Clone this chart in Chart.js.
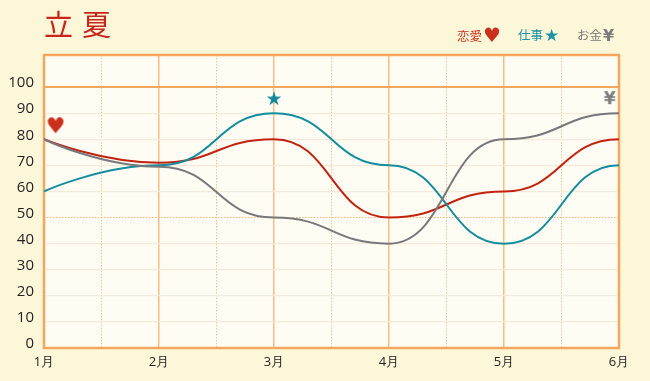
<!DOCTYPE html>
<html>
<head>
<meta charset="utf-8">
<script src="https://cdn.jsdelivr.net/npm/chart.js@4"></script>
<style>
  html, body { margin:0; padding:0; background:#fcf7d9; }
  #wrap { position:relative; width:650px; height:381px; }
  #titulo { position:absolute; left:44px; top:9px; font-family:"Noto Sans CJK JP"; font-size:29px; line-height:1; color:#c9261b; letter-spacing:9px; }
  .ley { position:absolute; top:26px; font-family:"Noto Sans CJK JP"; font-size:12.5px; line-height:18px; white-space:nowrap; }
  .ley b { font-family:"DejaVu Sans"; font-weight:normal; font-size:17px; vertical-align:-1px; margin-left:1px; }
</style>
</head>
<body>
<div id="wrap">
  <canvas id="grafico" width="650" height="381"></canvas>
  <div id="titulo">立夏</div>
  <div class="ley" style="left:457px;color:#c8311e">恋愛<b style="font-size:20px">♥</b></div>
  <div class="ley" style="left:518px;color:#1a93a4">仕事<b>★</b></div>
  <div class="ley" style="left:577px;color:#7a7a7a">お金<b style="font-weight:bold;font-size:16px">¥</b></div>
</div>
<script>
// datos
const meses = ['1月', '2月', '3月', '4月', '5月', '6月'];
const renai = [80, 71, 80, 50, 60, 80];      // 恋愛
const shigoto = [60, 70, 90, 70, 40, 70];    // 仕事
const okane = [80, 69.5, 50, 40, 80, 90];    // お金
const yTicks = [0, 10, 20, 30, 40, 50, 60, 70, 80, 90, 100];
const mitadX = [0.5, 1.5, 2.5, 3.5, 4.5];
// iconos sobre las curvas
const marcaX = [0.1, 2, 4.92];
const marcaY = [85, 95, 95];

const ROJO = '#c2220f', AZUL = '#128c9e', GRIS = '#76787b', NARANJA = '#f6a65c';

function glifo(ch, color, font, w, h, dy) {
    const c = document.createElement('canvas');
    c.width = w; c.height = h;
    const g = c.getContext('2d');
    g.fillStyle = color; g.font = font;
    g.textAlign = 'center'; g.textBaseline = 'middle';
    g.fillText(ch, w / 2, h / 2 + dy);
    return c;
}
const iconos = [
    glifo('♥', '#c8301c', '22px "DejaVu Sans"', 24, 24, 1),
    glifo('★', '#12899b', '19px "DejaVu Sans"', 20, 20, 0),
    glifo('¥', '#7b7b7b', 'bold 17px "DejaVu Sans"', 20, 20, 0)
];

const serie = arr => arr.map((v, i) => ({x: i, y: v}));

// tangentes horizontales en cada punto (salvo el primero)
const tangentesPlanas = {
    id: 'tangentesPlanas',
    beforeDatasetDraw(chart, args) {
        const meta = args.meta;
        if (!meta.dataset || meta.dataset.options.showLine === false) return;
        const linea = meta.dataset;
        linea.updateControlPoints(chart.chartArea, 'x');
        const pts = meta.data, K = 0.5;
        for (let i = 0; i < pts.length; i++) {
            const p = pts[i], prev = pts[i-1], next = pts[i+1];
            p.cp1x = prev ? p.x - (p.x - prev.x) * K : p.x;
            p.cp1y = p.y;
            p.cp2x = (next && prev) ? p.x + (next.x - p.x) * K : p.x;
            p.cp2y = p.y;
        }
        linea._path = undefined;
    }
};

const fondo = {
    id: 'fondo',
    beforeDraw(chart) {
        const a = chart.chartArea, ctx = chart.ctx;
        ctx.save(); ctx.fillStyle = '#fffdf3';
        ctx.fillRect(a.left, a.top, a.right - a.left, a.bottom - a.top);
        ctx.restore();
    },
    beforeDatasetsDraw(chart) {
        const a = chart.chartArea, ctx = chart.ctx;
        ctx.save(); ctx.strokeStyle = NARANJA; ctx.lineWidth = 2.5;
        ctx.strokeRect(a.left, a.top, a.right - a.left, a.bottom - a.top);
        ctx.restore();
    }
};

new Chart(document.getElementById('grafico'), {
    type: 'line',
    data: {
        datasets: [
            {label: 'お金', data: serie(okane), borderColor: GRIS},
            {label: '仕事', data: serie(shigoto), borderColor: AZUL},
            {label: '恋愛', data: serie(renai), borderColor: ROJO},
            {label: 'marcas', data: marcaX.map((x, i) => ({x: x, y: marcaY[i]})),
             showLine: false, pointStyle: iconos, pointRadius: 10, clip: false}
        ]
    },
    options: {
        responsive: false,
        animation: false,
        devicePixelRatio: 1,
        layout: {padding: {top: 55, right: 31, left: 0, bottom: 0}},
        elements: {
            line: {tension: 0.4, borderWidth: 2, fill: false},
            point: {radius: 0}
        },
        plugins: {legend: {display: false}, tooltip: {enabled: false}},
        scales: {
            x: {
                type: 'linear', min: 0, max: 5, position: 'bottom',
                afterBuildTicks: s => { s.ticks = meses.map((m, i) => ({value: i})); },
                afterFit: s => { s.height = 33; },
                border: {display: false},
                grid: {
                    drawTicks: false,
                    color: c => (c.tick && (c.tick.value === 0 || c.tick.value === 5)) ? 'rgba(0,0,0,0)' : '#f7bd86',
                    lineWidth: 1.5
                },
                ticks: {
                    padding: 6, color: '#231f20',
                    font: {family: 'Open Sans', size: 13},
                    callback: v => meses[v]
                }
            },
            x2: {
                type: 'linear', min: 0, max: 5, position: 'bottom',
                afterBuildTicks: s => { s.ticks = mitadX.map(v => ({value: v})); },
                afterFit: s => { s.height = 0; },
                border: {display: false, dash: [1.5, 1.5]},
                grid: {drawTicks: false, color: '#f3c39a', lineWidth: 1},
                ticks: {display: false}
            },
            y: {
                min: 0, max: 112.3, position: 'left',
                afterBuildTicks: s => { s.ticks = yTicks.map(v => ({value: v})); },
                afterFit: s => { s.width = 44; },
                border: {display: false},
                grid: {
                    drawTicks: false,
                    color: c => {
                        const v = c.tick ? c.tick.value : null;
                        if (v === 100) return NARANJA;
                        if (v === 0 || v === 50) return 'rgba(0,0,0,0)';
                        return '#f8eadb';
                    },
                    lineWidth: c => (c.tick && c.tick.value === 100) ? 2 : 1.2
                },
                ticks: {
                    padding: 10, labelOffset: -4, color: '#231f20',
                    font: {family: 'Open Sans', size: 15}
                }
            },
            y2: {
                min: 0, max: 112.3, position: 'left',
                afterBuildTicks: s => { s.ticks = [{value: 50}]; },
                afterFit: s => { s.width = 0; },
                border: {display: false, dash: [1.5, 1.5]},
                grid: {drawTicks: false, color: '#f3b27a', lineWidth: 1},
                ticks: {display: false}
            }
        }
    },
    plugins: [fondo, tangentesPlanas]
});
</script>
</body>
</html>
